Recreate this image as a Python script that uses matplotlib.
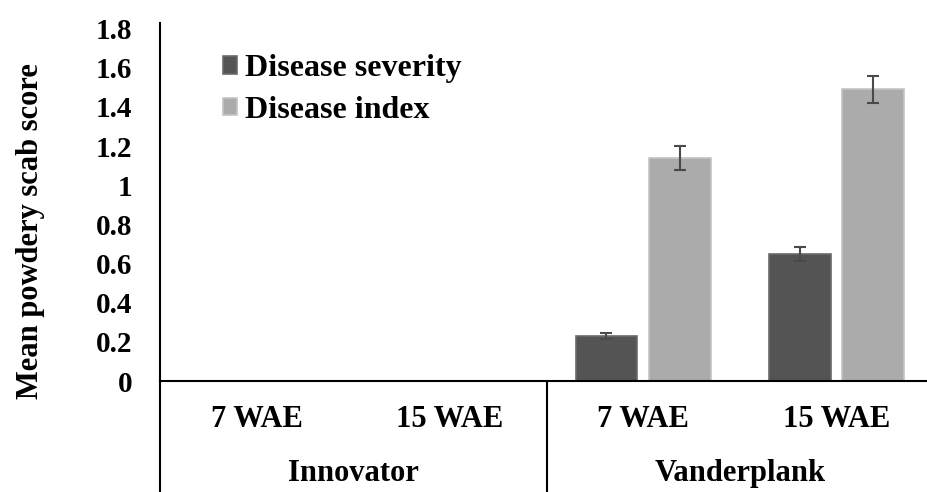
import matplotlib
matplotlib.use('Agg')
import matplotlib.pyplot as plt
import numpy as np

plt.rcParams['font.family'] = ['Liberation Serif', 'DejaVu Serif']
plt.rcParams['font.weight'] = 'bold'

# Data
weeks = ['7 WAE', '15 WAE', '7 WAE', '15 WAE']
varieties = ['Innovator', 'Vanderplank']
severity = [0.0, 0.0, 0.23, 0.65]
severity_err = [0.0, 0.0, 0.015, 0.035]
index = [0.0, 0.0, 1.14, 1.49]
index_err = [0.0, 0.0, 0.06, 0.07]
series_labels = ['Disease severity', 'Disease index']

fig = plt.figure(figsize=(9.27, 4.92), dpi=100)
ax = fig.add_axes([0.1726, 0.2256, 0.834, 0.7275])

x = np.arange(len(weeks))
width = 0.32

dark = '#545454'
light = '#ababab'

b1 = ax.bar(x - 0.19, severity, width, color=dark, edgecolor='#6a6a6a', linewidth=1.2,
            label=series_labels[0], zorder=2)
b2 = ax.bar(x + 0.19, index, width, color=light, edgecolor='#c4c4c4', linewidth=1.2,
            label=series_labels[1], zorder=2)

# error bars only where there is a value
for xs, vals, errs in [(x - 0.19, severity, severity_err), (x + 0.19, index, index_err)]:
    for xi, v, e in zip(xs, vals, errs):
        if v > 0:
            ax.errorbar(xi, v, yerr=e, color='#4a4a4a', capsize=4.3, elinewidth=1.5,
                        capthick=1.5, zorder=3)

ax.set_xlim(-0.5, 3.5)
ax.set_ylim(0, 1.828)
ax.set_yticks(np.arange(0, 1.81, 0.2))
ax.set_yticklabels(['0', '0.2', '0.4', '0.6', '0.8', '1', '1.2', '1.4', '1.6', '1.8'],
                   fontsize=21, fontweight='bold')
ax.tick_params(axis='y', length=0, pad=20)
ax.tick_params(axis='x', length=0, pad=17.5)
ax.set_xticks(x)
ax.set_xticklabels(weeks, fontsize=22, fontweight='bold')

for s in ['top', 'right']:
    ax.spines[s].set_visible(False)
ax.spines['left'].set_linewidth(1.5)
ax.spines['bottom'].set_linewidth(1.5)

ax.set_ylabel('Mean powdery scab score', fontsize=22, fontweight='bold')
ax.yaxis.set_label_coords(-0.149, 0.42)

# group divider lines below the axis
for xd in [-0.5, 1.5, 3.5]:
    ax.plot([xd, xd], [0, -0.4], transform=ax.get_xaxis_transform(), color='black',
            linewidth=1.5, clip_on=False)

for i, name in enumerate(varieties):
    ax.text(2 * i + 0.5, -0.258, name, transform=ax.get_xaxis_transform(),
            ha='center', va='center', fontsize=22, fontweight='bold')

ax.legend(loc='upper left', bbox_to_anchor=(0.065, 0.948), frameon=False,
          fontsize=23, handlelength=0.45, handleheight=0.45, handletextpad=0.25,
          labelspacing=0.4, borderaxespad=0.0)

fig.savefig('out.png', dpi=100)
